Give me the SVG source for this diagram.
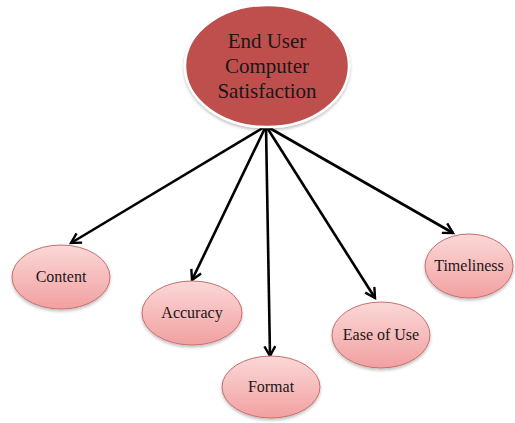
<svg xmlns="http://www.w3.org/2000/svg" width="515" height="423" viewBox="0 0 515 423">
<style>
.sub{fill:url(#pink);stroke:#c4706e;stroke-width:1}
.lbl{font-family:"Liberation Serif","Times New Roman",serif;fill:#1a1718;text-anchor:middle}
.s{font-size:16px}
.conn line{stroke:#000;stroke-width:2.6;marker-end:url(#ah)}
</style>
<defs>
<linearGradient id="pink" x1="0" y1="0" x2="0" y2="1">
<stop offset="0" stop-color="#fbd8d8"/>
<stop offset="1" stop-color="#f2a0a0"/>
</linearGradient>
<marker id="ah" viewBox="0 0 12 12" refX="10" refY="6" markerWidth="5" markerHeight="5" orient="auto" markerUnits="strokeWidth">
<path d="M1,1 L10,6 L1,11" fill="none" stroke="#000" stroke-width="2.2"/>
</marker>
<filter id="sh" x="-10%" y="-10%" width="120%" height="130%">
<feDropShadow dx="0" dy="2" stdDeviation="1.5" flood-color="#000" flood-opacity="0.25"/>
</filter>
</defs>
<rect width="515" height="423" fill="#fff"/>
<g class="conn">
<line x1="266" y1="126" x2="71" y2="243"/>
<line x1="266" y1="126" x2="192" y2="280"/>
<line x1="266" y1="126" x2="270" y2="356"/>
<line x1="266" y1="126" x2="375" y2="298"/>
<line x1="266" y1="126" x2="453" y2="233"/>
</g>
<g id="root">
<ellipse cx="267" cy="66" rx="82" ry="61" fill="#bf504d" stroke="#fff" stroke-width="2.5" filter="url(#sh)"/>
<text class="lbl" x="267" y="48" font-size="21">End User</text>
<text class="lbl" x="267" y="73" font-size="21">Computer</text>
<text class="lbl" x="267" y="98" font-size="21">Satisfaction</text>
</g>
<g id="content">
<ellipse class="sub" cx="61" cy="277" rx="49" ry="32" filter="url(#sh)"/>
<text class="lbl s" x="61" y="282">Content</text>
</g>
<g id="accuracy">
<ellipse class="sub" cx="192" cy="313" rx="50" ry="32" filter="url(#sh)"/>
<text class="lbl s" x="192" y="318">Accuracy</text>
</g>
<g id="format">
<ellipse class="sub" cx="271" cy="387" rx="49" ry="31" filter="url(#sh)"/>
<text class="lbl s" x="271" y="392">Format</text>
</g>
<g id="ease">
<ellipse class="sub" cx="381" cy="335" rx="49" ry="33" filter="url(#sh)"/>
<text class="lbl s" x="381" y="340">Ease of Use</text>
</g>
<g id="timeliness">
<ellipse class="sub" cx="469" cy="266" rx="44" ry="32" filter="url(#sh)"/>
<text class="lbl s" x="469" y="271">Timeliness</text>
</g>
</svg>
